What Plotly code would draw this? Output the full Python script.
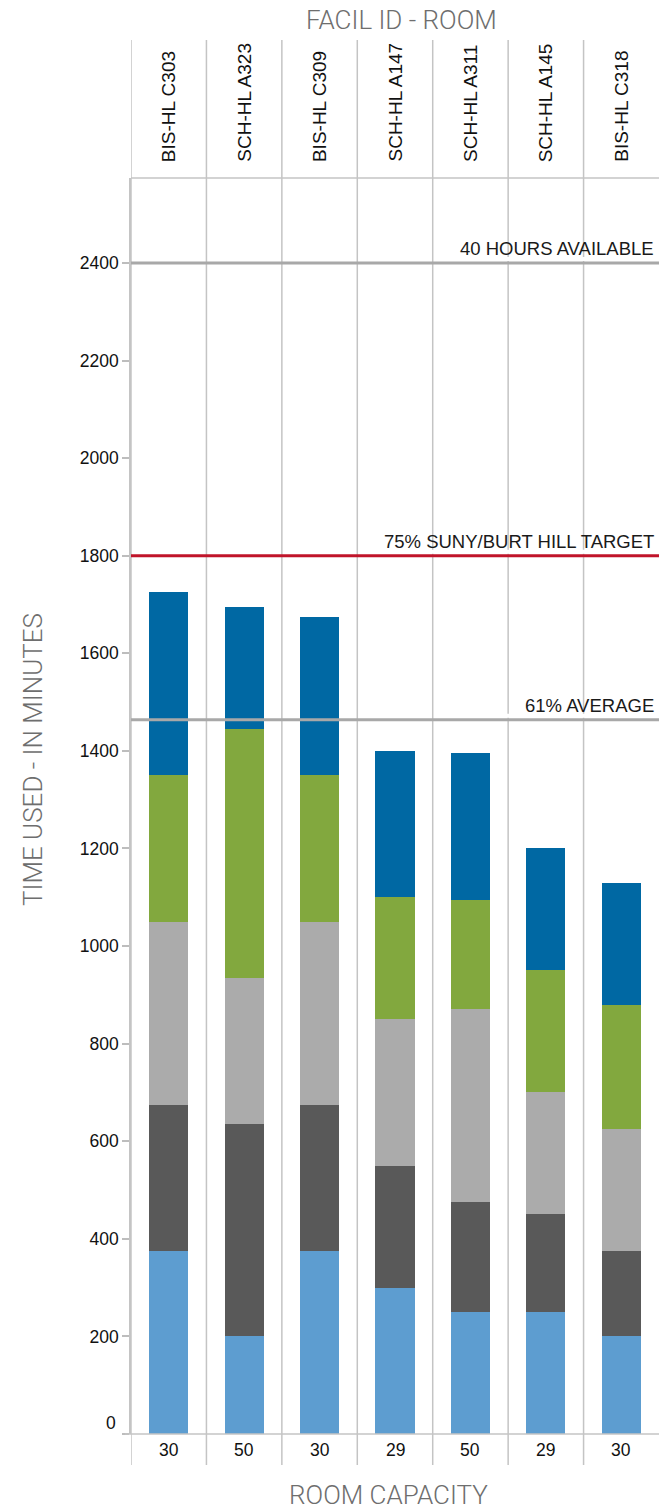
import plotly.graph_objects as go

# Rooms (header row) and their seat capacity (footer row)
rooms = ["BIS-HL C303", "SCH-HL A323", "BIS-HL C309", "SCH-HL A147",
         "SCH-HL A311", "SCH-HL A145", "BIS-HL C318"]
capacity = ["30", "50", "30", "29", "50", "29", "30"]

# Minutes used per room, stacked bottom to top
seg1 = [375, 200, 375, 300, 250, 250, 200]
seg2 = [300, 435, 300, 250, 225, 200, 175]
seg3 = [375, 300, 375, 300, 395, 250, 250]
seg4 = [300, 510, 300, 250, 225, 250, 255]
seg5 = [375, 250, 325, 300, 300, 250, 250]

segments = [seg1, seg2, seg3, seg4, seg5]
seg_colors = ["#5D9DD0", "#595959", "#ABABAB", "#82A83E", "#0068A3"]

# Reference levels (minutes)
ref_values = [2400, 1800, 1464]
ref_labels = ["40 HOURS AVAILABLE", "75% SUNY/BURT HILL TARGET", "61% AVERAGE"]
ref_colors = ["#A8A8A8", "#C0142A", "#A8A8A8"]

y_ticks = [0, 200, 400, 600, 800, 1000, 1200, 1400, 1600, 1800, 2000, 2200, 2400]

W, H = 659, 1512
L, R, T, B = 131, 0, 178, 78
plot_h = H - T - B
plot_w = W - L - R
y_top = 2574
unit_px = plot_h / y_top

SANS = "Liberation Sans"


def py(pix):
    """Convert a page pixel row to paper y."""
    return (H - B - pix) / plot_h


def px(pix):
    """Convert a page pixel column to paper x."""
    return (pix - L) / plot_w


xs = list(range(len(rooms)))

fig = go.Figure()
for vals, col in zip(segments, seg_colors):
    fig.add_trace(go.Bar(x=xs, y=vals, marker=dict(color=col, line=dict(width=0)),
                         width=0.52, showlegend=False, hoverinfo="skip"))

shapes = []
# column separators running through header, plot and footer
for k in range(len(rooms)):
    shapes.append(dict(type="line", xref="x", yref="paper",
                       x0=k - 0.5, x1=k - 0.5, y0=py(1465), y1=py(40),
                       line=dict(color="#C4C4C4", width=1.5), layer="below"))
# header separator
shapes.append(dict(type="line", xref="paper", yref="paper", x0=0, x1=1, y0=1, y1=1,
                   line=dict(color="#C4C4C4", width=1.5), layer="below"))
# baseline
shapes.append(dict(type="line", xref="paper", yref="paper", x0=px(125), x1=1, y0=0, y1=0,
                   line=dict(color="#C4C4C4", width=1.5), layer="above"))
# thin white gap under each reference label, then the reference lines
label_left = [459, 388, 494]
for v, xl in zip(ref_values, label_left):
    shapes.append(dict(type="rect", xref="paper", yref="y", x0=px(xl), x1=1,
                       y0=v + 2 / unit_px, y1=v + 6 / unit_px,
                       fillcolor="white", line=dict(width=0), layer="below"))
for v, c in zip(ref_values, ref_colors):
    shapes.append(dict(type="line", xref="paper", yref="y", x0=0, x1=1, y0=v, y1=v,
                       line=dict(color=c, width=3), layer="above"))

ann = []
for k, (rm, cap) in enumerate(zip(rooms, capacity)):
    ann.append(dict(x=k, y=py(164), xref="x", yref="paper", text=rm, textangle=-90,
                    showarrow=False, xanchor="center", yanchor="bottom",
                    font=dict(family=SANS, size=19, color="#111111")))
    ann.append(dict(x=k, y=py(1450), xref="x", yref="paper", text=cap,
                    showarrow=False, xanchor="center", yanchor="middle",
                    font=dict(family=SANS, size=17.5, color="#111111")))

for v, lab in zip(ref_values, ref_labels):
    ann.append(dict(x=1, y=v, xref="paper", yref="y", text=lab, showarrow=False,
                    xanchor="right", yanchor="bottom", xshift=-3, yshift=2,
                    borderpad=1,
                    font=dict(family=SANS, size=18.5, color="#1A1A1A")))

# zero label sits slightly above the baseline
ann.append(dict(x=px(118), y=py(1423), xref="paper", yref="paper", text="0",
                showarrow=False, xanchor="right", yanchor="middle",
                font=dict(family=SANS, size=17.5, color="#111111")))

title_font = dict(family="Roboto", size=26, color="#6E6E6E", weight=300)
ann.append(dict(x=px(401), y=py(20), xref="paper", yref="paper", text="FACIL ID - ROOM",
                showarrow=False, xanchor="center", yanchor="middle", font=title_font))
ann.append(dict(x=px(388), y=py(1495), xref="paper", yref="paper", text="ROOM CAPACITY",
                showarrow=False, xanchor="center", yanchor="middle", font=title_font))
ann.append(dict(x=px(33), y=py(760), xref="paper", yref="paper", text="TIME USED - IN MINUTES",
                textangle=-90, showarrow=False, xanchor="center", yanchor="middle",
                font=title_font))

fig.update_layout(
    width=W, height=H,
    margin=dict(l=L, r=R, t=T, b=B, pad=0),
    barmode="stack",
    bargap=0,
    plot_bgcolor="white", paper_bgcolor="white",
    shapes=shapes, annotations=ann,
    xaxis=dict(range=[-0.5, len(rooms) - 0.5], showticklabels=False, showgrid=False,
               zeroline=False, showline=False, ticks=""),
    yaxis=dict(range=[0, y_top], tickvals=y_ticks,
               ticktext=["" if t == 0 else str(t) for t in y_ticks],
               ticks="outside", ticklen=7, tickwidth=1.5, tickcolor="#BDBDBD",
               showgrid=False, zeroline=False, showline=True, linecolor="#C4C4C4",
               linewidth=1.5,
               tickfont=dict(family=SANS, size=17.5, color="#111111")),
)

fig.write_html("out.html")
